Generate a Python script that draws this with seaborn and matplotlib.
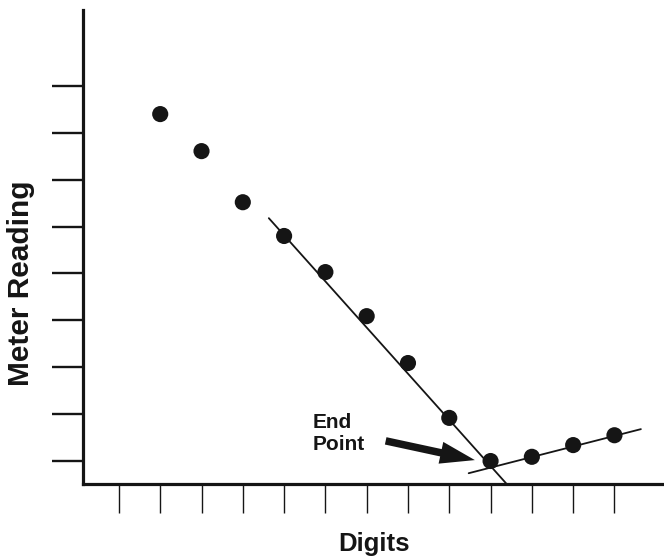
import pandas as pd
import seaborn as sns
import matplotlib.pyplot as plt

# titration readings (digits vs meter reading)
digits = [2, 3, 4, 5, 6, 7, 8, 9, 10, 11, 12, 13]
reading = [8.40, 7.61, 6.52, 5.80, 5.03, 4.09, 3.09, 1.92, 1.00, 1.09, 1.34, 1.55]

# two fitted lines that cross at the end point
fall_x = [4.63, 10.39]
fall_y = [6.18, 0.51]
rise_x = [9.47, 13.64]
rise_y = [0.74, 1.68]

x_ticks = list(range(1, 14))
y_ticks = list(range(1, 10))

sns.set_style('white')
plt.rcParams['font.family'] = ['Liberation Sans', 'DejaVu Sans']
ink = '#151515'

fig = plt.figure(figsize=(6.64, 5.58), dpi=100)
ax = fig.add_axes([83 / 664, 74 / 558, 1 - 83 / 664, 474 / 558])

df = pd.DataFrame({'digits': digits, 'reading': reading})
sns.lineplot(x=fall_x, y=fall_y, ax=ax, color=ink, linewidth=1.3)
sns.lineplot(x=rise_x, y=rise_y, ax=ax, color=ink, linewidth=1.3)
sns.scatterplot(data=df, x='digits', y='reading', ax=ax, color=ink,
                s=135, edgecolor='none', zorder=3)

ax.set_xlim(0.13, 14.2)
ax.set_ylim(0.51, 10.62)
ax.set_xticks(x_ticks)
ax.set_yticks(y_ticks)
ax.set_xticklabels([])
ax.set_yticklabels([])
ax.tick_params(axis='x', direction='out', length=21, width=1.0, color=ink, bottom=True)
ax.tick_params(axis='y', direction='out', length=22, width=1.7, color=ink, left=True)
for side in ['top', 'right']:
    ax.spines[side].set_visible(False)
for side in ['left', 'bottom']:
    ax.spines[side].set_linewidth(2.3)
    ax.spines[side].set_color(ink)
ax.set_xlabel('')
ax.set_ylabel('')

# arrow pointing at the end point
ax.annotate('', xy=(9.62, 1.02), xytext=(7.46, 1.43),
            arrowprops=dict(arrowstyle='simple,head_length=1.25,head_width=0.8,tail_width=0.27',
                            mutation_scale=20, color=ink, lw=0, shrinkA=0, shrinkB=0))
ax.text(5.70, 1.70, 'End', fontsize=15, fontweight='bold', color=ink, va='baseline')
ax.text(5.70, 1.23, 'Point', fontsize=15, fontweight='bold', color=ink, va='baseline')

fig.text(21 / 664, 1 - 283 / 558, 'Meter Reading', rotation=90, fontsize=21.5,
         fontweight='bold', color=ink, ha='center', va='center')
fig.text(374 / 664, 1 - 551 / 558, 'Digits', fontsize=18.5,
         fontweight='bold', color=ink, ha='center', va='baseline')

fig.savefig('out.png', dpi=100)
